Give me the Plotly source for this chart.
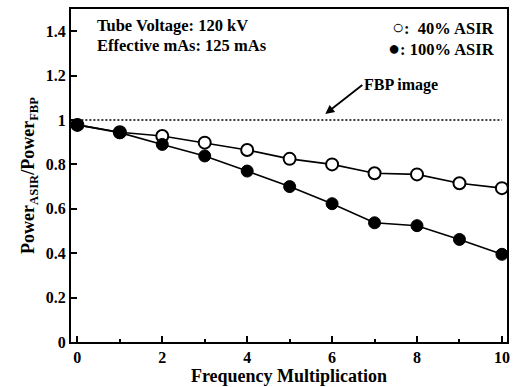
import plotly.graph_objects as go

freq = [0, 1, 2, 3, 4, 5, 6, 7, 8, 9, 10]
asir40 = [0.978, 0.945, 0.928, 0.898, 0.865, 0.825, 0.80, 0.76, 0.755, 0.715, 0.693]
asir100 = [0.978, 0.943, 0.89, 0.838, 0.77, 0.70, 0.623, 0.537, 0.524, 0.462, 0.395]
fbp_x = [0, 10]
fbp_y = [1, 1]
y_ticks = [0, 0.2, 0.4, 0.6, 0.8, 1, 1.2, 1.4]
y_labels = ["0", "0.2", "0.4", "0.6", "0.8", "1", "1.2", "1.4"]
x_ticks = [0, 2, 4, 6, 8, 10]

FONT = "Liberation Serif"

fig = go.Figure()
fig.add_trace(go.Scatter(x=fbp_x, y=fbp_y, mode="lines",
                         line=dict(color="black", width=1.4, dash="2px,2px"),
                         showlegend=False))
fig.add_trace(go.Scatter(x=freq, y=asir40, mode="lines+markers",
                         line=dict(color="black", width=1.6),
                         marker=dict(symbol="circle", size=12, color="white",
                                     line=dict(color="black", width=2)),
                         showlegend=False))
fig.add_trace(go.Scatter(x=freq, y=asir100, mode="lines+markers",
                         line=dict(color="black", width=1.6),
                         marker=dict(symbol="circle", size=12, color="black",
                                     line=dict(color="black", width=1)),
                         showlegend=False))

tf = dict(family=FONT, size=16.5, color="black")

fig.add_annotation(x=0.055, y=0.949, xref="paper", yref="paper", xanchor="left", yanchor="middle",
                   text="<b>Tube Voltage: 120 kV</b>", showarrow=False, font=tf)
fig.add_annotation(x=0.055, y=0.889, xref="paper", yref="paper", xanchor="left", yanchor="middle",
                   text="<b>Effective mAs: 125 mAs</b>", showarrow=False, font=tf)
fig.add_annotation(x=0.977, y=0.945, xref="paper", yref="paper", xanchor="right", yanchor="middle",
                   text="<b><span style='font-size:20px'>○</span>:  40% ASIR</b>", showarrow=False,
                   font=tf)
fig.add_annotation(x=0.977, y=0.884, xref="paper", yref="paper", xanchor="right", yanchor="middle",
                   text="<b><span style='font-size:20px'>●</span>: 100% ASIR</b>", showarrow=False,
                   font=tf)
fig.add_annotation(x=5.84, y=1.027, ax=37, ay=-29,
                   text="<b>FBP image</b>", showarrow=True, arrowhead=2, arrowsize=1,
                   arrowwidth=1.8, arrowcolor="black", xanchor="left",
                   font=dict(family=FONT, size=16, color="black"))

fig.update_layout(
    width=517, height=387,
    margin=dict(l=71, r=9, t=7, b=45),
    paper_bgcolor="white", plot_bgcolor="white",
    font=dict(family=FONT, size=16, color="black"),
    xaxis=dict(range=[-0.15, 10.12], tickvals=x_ticks, ticks="inside", ticklen=6,
               tickwidth=1.5, tickcolor="black",
               minor=dict(tickvals=[1, 3, 5, 7, 9], ticks="inside", ticklen=3, tickcolor="black"),
               showline=True, linecolor="black", linewidth=2, mirror=True,
               showgrid=False, zeroline=False,
               tickfont=dict(family=FONT, size=16, color="black", weight="bold"),
               title=dict(text="<b>Frequency Multiplication</b>", standoff=0,
                          font=dict(family=FONT, size=18))),
    yaxis=dict(range=[0, 1.5], tickvals=y_ticks, ticktext=y_labels, ticks="inside",
               ticklen=6, tickwidth=1.5, tickcolor="black",
               showline=True, linecolor="black", linewidth=2, mirror=True,
               showgrid=False, zeroline=False,
               tickfont=dict(family=FONT, size=16, color="black", weight="bold"),
               title=dict(text="<b>Power<sub>ASIR</sub>/Power<sub>FBP</sub></b>", standoff=6,
                          font=dict(family=FONT, size=18))),
)

fig.write_html("out.html")
